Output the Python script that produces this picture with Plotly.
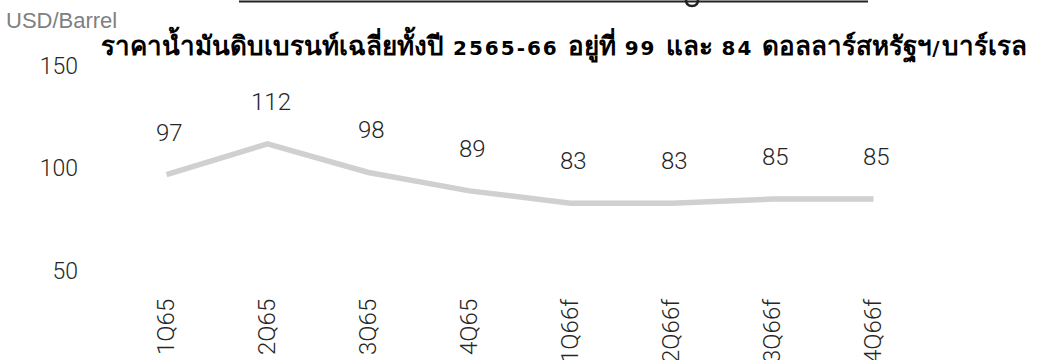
import re
import plotly.graph_objects as go

# Quarterly average Brent price, USD per barrel
quarters = ["1Q65", "2Q65", "3Q65", "4Q65", "1Q66f", "2Q66f", "3Q66f", "4Q66f"]
brent = [97, 112, 98, 89, 83, 83, 85, 85]
y_ticks = [50, 100, 150]

title_text = "ราคาน้ำมันดิบเบรนท์เฉลี่ยทั้งปี 2565-66 อยู่ที่ 99 และ 84 ดอลลาร์สหรัฐฯ/บาร์เรล"
unit_text = "USD/Barrel"

W, H = 1041, 360
ML, MR, MT, MB = 116, 117, 56, 69
PW, PH = W - ML - MR, H - MT - MB


def px(x):
    return (x - ML) / PW


def py(y):
    return (H - MB - y) / PH


def styled_title(text):
    # Latin digits/punctuation in a wide bold face, Thai runs in the fallback Thai face
    parts = re.split(r"([ -~]+)", text)
    out = []
    for p in parts:
        if not p:
            continue
        if re.fullmatch(r"[ -~]+", p):
            out.append(
                '<span style="font-family:DejaVu Sans;font-size:20px;letter-spacing:2px">'
                f"{p}</span>"
            )
        else:
            out.append(f'<span style="font-size:26px">{p}</span>')
    return "<b>" + "".join(out) + "</b>"


num_family = "Roboto, Liberation Sans, sans-serif"

fig = go.Figure()
fig.add_trace(go.Scatter(
    x=quarters, y=brent, mode="lines",
    line=dict(color="#d0d0d0", width=5.5),
    hoverinfo="skip", showlegend=False,
))

# value labels above each point
for q, v in zip(quarters, brent):
    fig.add_annotation(
        x=q, y=v, xref="x", yref="y", text=str(v), showarrow=False,
        yanchor="middle", xanchor="center", yshift=42, xshift=3,
        font=dict(family=num_family, size=24, color="#262626", weight=300),
    )

fig.add_annotation(
    x=px(564), y=py(45), xref="paper", yref="paper", text=styled_title(title_text),
    showarrow=False, xanchor="center", yanchor="middle",
    font=dict(family="Noto Sans, sans-serif", size=26, color="#000000"),
)
fig.add_annotation(
    x=px(4), y=py(20), xref="paper", yref="paper", text=unit_text,
    showarrow=False, xanchor="left", yanchor="middle",
    font=dict(family="Liberation Sans, sans-serif", size=22, color="#808080"),
)

# rule across the top edge
fig.add_shape(type="line", xref="paper", yref="paper",
              x0=px(239), x1=px(868), y0=py(1.5), y1=py(1.5),
              line=dict(color="#222222", width=2))
fig.add_shape(type="path", xref="paper", yref="paper",
              path=f"M {px(686)} {py(0)} Q {px(686)} {py(6)} {px(692)} {py(6)} Q {px(698)} {py(6)} {px(698)} {py(0)}",
              line=dict(color="#222222", width=2.5))

fig.update_layout(
    width=W, height=H,
    margin=dict(l=ML, r=MR, t=MT, b=MB, pad=0),
    paper_bgcolor="white", plot_bgcolor="white",
    xaxis=dict(
        type="category", range=[-0.5, 7.5], showgrid=False, zeroline=False,
        showline=False, ticks="", tickangle=-90, automargin=False,
        ticklabelstandoff=2,
        tickfont=dict(family=num_family, size=24, color="#262626", weight=300),
    ),
    yaxis=dict(
        range=[40, 155], tickvals=y_ticks, showgrid=False, zeroline=False,
        showline=False, ticks="", ticklabelstandoff=37, automargin=False,
        tickfont=dict(family=num_family, size=23, color="#262626", weight=300),
    ),
)

fig.write_html("out.html")
